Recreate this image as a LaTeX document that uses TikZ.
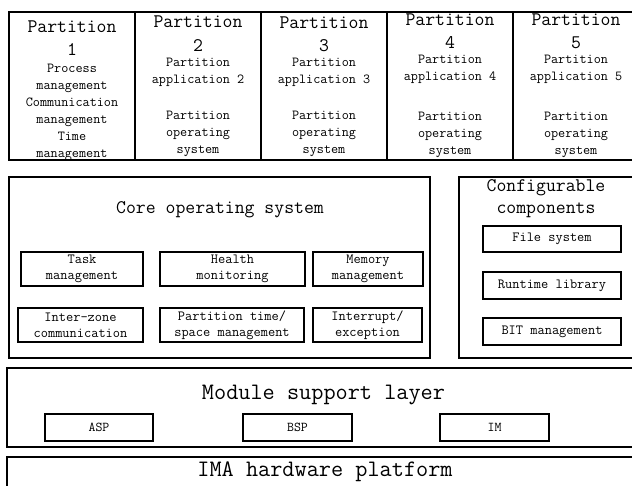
\documentclass[tikz,border=0pt]{standalone}
\usepackage{fontspec}
\usetikzlibrary{positioning}

\tikzset{
  layer/.style={draw, line width=1.5pt, inner sep=0pt},
  part/.style={layer, minimum width=126, minimum height=148},
  unit/.style={draw, line width=1.3pt, inner sep=0pt, align=center,
    font=\ttfamily\fontsize{14}{16}\selectfont},
  head/.style={inner sep=0pt, align=center, font=\ttfamily\fontsize{19.2}{23.5}\selectfont},
  note/.style={inner sep=0pt, align=center, font=\ttfamily\fontsize{13.8}{17}\selectfont},
  big/.style={inner sep=0pt, font=\ttfamily\fontsize{23.6}{26}\selectfont},
  tag/.style={unit, font=\ttfamily\fontsize{13.5}{15}\selectfont},
}

\begin{document}
\begin{tikzpicture}[x=1pt, y=-1pt]
  \useasboundingbox (0,0) rectangle (632,485);

  % partitions
  \node[part] (p1) at (72,86)  {};
  \node[part] (p2) at (198,86) {};
  \node[part] (p3) at (324,86) {};
  \node[part] (p4) at (450,86) {};
  \node[part] (p5) at (576,86) {};

  \node[head] (t1) at (72,38) {Partition\\1};
  \node[note] (n1) at (72,112) {Process\\management\\Communication\\management\\Time\\management};
  \node[head] (t2) at (198,33.5) {Partition\\2};
  \node[note] (a2) at (198,72.5) {Partition\\application 2};
  \node[note] (o2) at (198,134) {Partition\\operating\\system};
  \node[head] (t3) at (324,34) {Partition\\3};
  \node[note] (a3) at (324,72.5) {Partition\\application 3};
  \node[note] (o3) at (324,134) {Partition\\operating\\system};
  \node[head] (t4) at (450,31) {Partition\\4};
  \node[note] (a4) at (450,69.5) {Partition\\application 4};
  \node[note] (o4) at (450,135) {Partition\\operating\\system};
  \node[head] (t5) at (576,31) {Partition\\5};
  \node[note] (a5) at (576,69.5) {Partition\\application 5};
  \node[note] (o5) at (576,135) {Partition\\operating\\system};

  % core operating system
  \node[layer, minimum width=421, minimum height=181] (core) at (219.5,267.5) {};
  \node[head] (coretitle) at (220,210) {Core operating system};
  \node[unit, minimum width=122, minimum height=34] (task)   at (82,269)    {Task\\management};
  \node[unit, minimum width=145, minimum height=34] (health) at (232.5,269) {Health\\monitoring};
  \node[unit, minimum width=110, minimum height=34] (memory) at (368,269)   {Memory\\management};
  \node[unit, minimum width=125, minimum height=34] (inter)  at (80.5,325)  {Inter-zone\\communication};
  \node[unit, minimum width=144, minimum height=34] (ptime)  at (232,325)   {Partition time/\\space management};
  \node[unit, minimum width=109, minimum height=34] (irq)    at (367.5,325) {Interrupt/\\exception};

  % configurable components
  \node[layer, minimum width=180, minimum height=181] (conf) at (549,267.5) {};
  \node[head, font=\ttfamily\fontsize{19.2}{22}\selectfont] (conftitle) at (546,199) {Configurable\\components};
  \node[unit, minimum width=138, minimum height=26] (fs)  at (552,239)   {File system};
  \node[unit, minimum width=138, minimum height=27] (rtl) at (552,285.5) {Runtime library};
  \node[unit, minimum width=138, minimum height=27] (bit) at (552,331.5) {BIT management};

  % module support layer
  \node[layer, minimum width=633, minimum height=79] (msl) at (323.5,407.5) {};
  \node[big] (msltitle) at (323.5,395) {Module support layer};
  \node[tag, minimum width=108, minimum height=27] (asp) at (99,427.5)    {ASP};
  \node[tag, minimum width=109, minimum height=27] (bsp) at (297.5,427.5) {BSP};
  \node[tag, minimum width=109, minimum height=27] (im)  at (494.5,427.5) {IM};

  % hardware
  \node[layer, minimum width=633, minimum height=50] (hw) at (323.5,482) {};
  \node[big] (hwtitle) at (325,472) {IMA hardware platform};
\end{tikzpicture}
\end{document}
